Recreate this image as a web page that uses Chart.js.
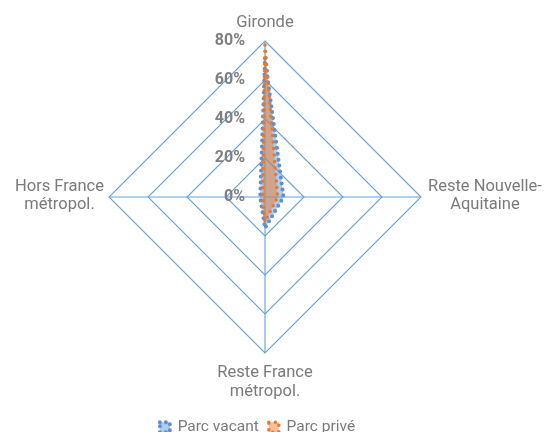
<!DOCTYPE html>
<html>
<head>
<meta charset="utf-8">
<script src="https://cdn.jsdelivr.net/npm/chart.js@4"></script>
<style>
  html, body { margin: 0; padding: 0; background: #fff; }
  #wrap { width: 551px; height: 432px; }
</style>
</head>
<body>
<div id="wrap"><canvas id="radarChart"></canvas></div>
<script>
// Data
const categories = ['Gironde', ['Reste Nouvelle-', 'Aquitaine'], ['Reste France', 'métropol.'], ['Hors France', 'métropol.']];
const parcVacant = [71, 9.5, 16, 2.5];
const parcPrive = [78, 6.5, 12.7, 1.2];
const tickValues = [0, 20, 40, 60, 80];

const labelColor = '#7a7a7a';
const gridColor = '#64a2dc';

// polygon grid drawn from the scale, under the datasets
const gridPlugin = {
    id: 'radarGrid',
    beforeDatasetsDraw(chart) {
        const scale = chart.scales.r;
        const ctx = chart.ctx;
        ctx.save();
        ctx.lineWidth = 1.1;
        ctx.strokeStyle = gridColor;
        tickValues.forEach(v => {
            if (v === 0) return;
            const r = scale.getDistanceFromCenterForValue(v);
            ctx.beginPath();
            categories.forEach((c, i) => {
                const p = scale.getPointPosition(i, r);
                if (i === 0) ctx.moveTo(p.x, p.y); else ctx.lineTo(p.x, p.y);
            });
            ctx.closePath();
            ctx.stroke();
        });
        ctx.restore();
    }
};

// tick labels left of the vertical axis + point labels with centred lines
const labelsPlugin = {
    id: 'radarLabels',
    afterDraw(chart) {
        const scale = chart.scales.r;
        const ctx = chart.ctx;
        ctx.save();

        ctx.font = 'bold 16px Roboto';
        ctx.fillStyle = '#7f7f7f';
        ctx.textAlign = 'right';
        ctx.textBaseline = 'middle';
        tickValues.forEach(v => {
            const y = scale.yCenter - scale.getDistanceFromCenterForValue(v);
            ctx.fillText(v + '%', scale.xCenter - 20, y);
        });

        ctx.font = '16.5px Roboto';
        ctx.fillStyle = labelColor;
        ctx.textAlign = 'center';
        const lh = 18.5;
        categories.forEach((label, i) => {
            const lines = [].concat(label);
            const p = scale.getPointPosition(i, scale.drawingArea);
            const cos = Math.cos(p.angle), sin = Math.sin(p.angle);
            const blockH = lines.length * lh;
            const blockW = Math.max(...lines.map(t => ctx.measureText(t).width));
            let cx, top;
            if (Math.abs(cos) < 0.01) {
                cx = p.x;
                top = sin < 0 ? p.y - 9 - blockH : p.y + 11;
            } else {
                cx = cos > 0 ? p.x + 7 + blockW / 2 : p.x - 5 - blockW / 2;
                top = p.y - blockH / 2 - 1;
            }
            lines.forEach((t, k) => ctx.fillText(t, cx, top + lh * k + lh / 2));
        });
        ctx.restore();
    }
};

new Chart(document.getElementById('radarChart'), {
    type: 'radar',
    data: {
        labels: categories,
        datasets: [{
            label: 'Parc vacant',
            data: parcVacant,
            borderColor: '#5b8fd6',
            backgroundColor: 'rgba(91,155,213,0.5)',
            borderWidth: 4,
            borderDash: [0, 6],
            borderCapStyle: 'round',
            pointRadius: 0,
            fill: true,
            order: 2
        }, {
            label: 'Parc privé',
            data: parcPrive,
            borderColor: '#e9772e',
            backgroundColor: 'rgba(237,125,49,0.5)',
            borderWidth: 3.5,
            borderDash: [0, 6.5],
            borderCapStyle: 'round',
            pointRadius: 0,
            fill: true,
            order: 1
        }]
    },
    options: {
        responsive: true,
        maintainAspectRatio: false,
        animation: false,
        layout: { padding: { top: 0, bottom: -13, left: 0, right: 36 } },
        plugins: {
            legend: {
                position: 'bottom',
                labels: {
                    font: { family: 'Roboto', size: 15.5 },
                    color: labelColor,
                    boxWidth: 10,
                    boxHeight: 10,
                    padding: 10,
                    sort: (a, b) => a.datasetIndex - b.datasetIndex
                }
            },
            tooltip: { enabled: false }
        },
        scales: {
            r: {
                min: 0,
                max: 80,
                ticks: { stepSize: 20, display: false },
                grid: { display: false },
                angleLines: { color: gridColor, lineWidth: 1.1 },
                pointLabels: { display: false },
                afterFit(scale) {
                    // place the diamond as in the reference
                    scale.xCenter = 265;
                    scale.yCenter = 197;
                    scale.drawingArea = 156;
                }
            }
        }
    },
    plugins: [gridPlugin, labelsPlugin]
});
</script>
</body>
</html>
